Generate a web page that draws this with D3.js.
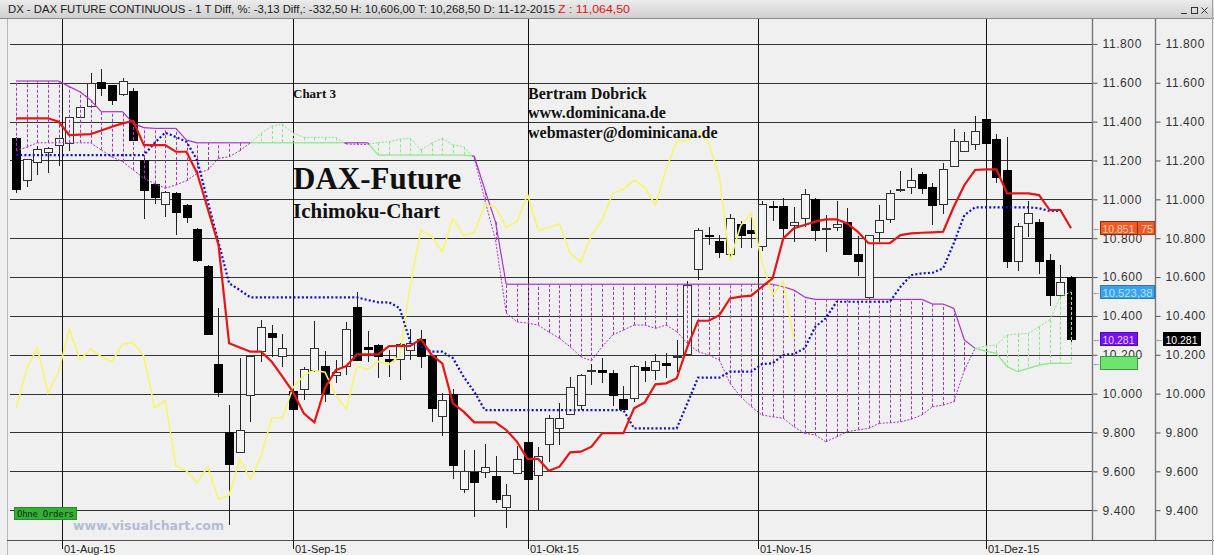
<!DOCTYPE html>
<html><head><meta charset="utf-8">
<script src="https://cdn.jsdelivr.net/npm/d3@7"></script>
<style>
html,body{margin:0;padding:0;background:#f0f0f0;overflow:hidden}
svg{display:block}
</style></head><body>
<svg id="c" width="1214" height="555"></svg>
<script>
// ---------------- DATA ----------------
const firstDay = "2015-07-27", lastDay = "2015-12-11"; // trading days (Mon-Fri)
const monthStarts = ["2015-08-01","2015-09-01","2015-10-01","2015-11-01","2015-12-01"];
const monthLabels = ["01-Aug-15","01-Sep-15","01-Okt-15","01-Nov-15","01-Dez-15"];
const priceTicks = [9400,9600,9800,10000,10200,10400,10600,10800,11000,11200,11400,11600,11800];

const open = [11314,11099,11192,11243,11279,11288,11425,11477,11605,11587,11540,11559,11202,11077,10979,11031,10971,10847,10658,10152,
 9804,9701,9993,10219,10313,10193,10015,10024,10125,10142,10099,10142,10447,10240,10249,10176,10176,10228,10281,10195,
 9883,9996,9509,9595,9598,9576,9418,9590,9749,9581,9739,9826,9893,9941,10116,10120,10104,9972,9975,10139,
 10121,10159,10187,10204,10641,10815,10785,10717,10873,10842,10760,10965,10967,10868,10902,11000,10853,10859,10885,10717,
 10496,10830,10897,11050,11062,11130,11065,10976,11173,11250,11283,11412,11310,11151,10682,10876,10882,10688,10507,10602];
const high = [11320,11210,11274,11270,11318,11425,11485,11648,11669,11590,11624,11571,11215,11085,11045,11036,10975,10850,10660,10439,
 9941,10182,10195,10379,10353,10305,10020,10135,10374,10219,10173,10370,10521,10324,10255,10224,10260,10331,10327,10200,
 10001,10022,9710,9710,9739,9680,9535,9732,9755,9727,9890,9950,10087,10100,10155,10185,10121,10039,10145,10169,
 10204,10207,10276,10579,10854,10859,10816,10923,10890,10910,10993,10993,11008,10962,11051,11008,10919,10991,10954,10811,
 10815,10969,11048,11147,11160,11142,11082,11185,11360,11348,11429,11420,11334,11319,10876,10991,10897,10718,10662,10606];
const low = [11031,11065,11125,11137,11171,11250,11420,11470,11533,11485,11530,11300,10897,10976,10910,10816,10880,10680,10300,9984,
 9323,9695,9855,10164,10187,10135,9918,9967,10113,9958,10056,10096,10170,10164,10079,10084,10070,10173,10130,9855,
 9783,9560,9487,9366,9564,9435,9307,9585,9555,9401,9649,9735,9888,9915,10044,10053,9936,9918,9958,10058,
 10070,10079,10113,10200,10585,10765,10696,10696,10748,10751,10734,10888,10808,10782,10856,10787,10730,10837,10713,10607,
 10487,10782,10876,11039,11027,11027,10868,10924,11168,11245,11254,11288,11085,10645,10633,10808,10616,10451,10499,10268];
const close = [11053,11206,11257,11266,11314,11422,11477,11597,11576,11511,11609,11305,11048,11008,11039,10931,10910,10688,10307,10010,
 9641,9813,10193,10344,10290,10236,9924,10127,10236,10005,10113,10332,10173,10230,10190,10164,10254,10262,10193,9927,
 9965,9629,9602,9541,9624,9457,9478,9662,9560,9680,9873,9876,10032,10094,10120,10110,9991,9921,10142,10125,
 10166,10151,10193,10559,10842,10810,10730,10902,10815,10828,10974,10960,10856,10885,11026,10842,10855,10873,10722,10679,
 10815,10893,11031,11053,11099,11060,10971,11154,11300,11300,11352,11291,11116,10684,10864,10928,10679,10507,10576,10281];

// Tenkan-sen (red)
const tenkan = [11417,11417,11417,11417,11399,11331,11333,11336,11354,11374,11391,11403,11279,11279,11279,11245,11245,11134,10950,10765,
 10259,10237,10216,10216,10164,10087,10008,9899,9852,10030,10121,10142,10202,10202,10202,10245,10245,10245,10281,10199,
 10156,9950,9907,9852,9852,9852,9813,9753,9664,9664,9603,9624,9698,9701,9727,9796,9796,9796,9924,9955,
 10048,10053,10079,10241,10375,10375,10404,10490,10499,10504,10550,10593,10799,10851,10868,10885,10897,10897,10876,10833,
 10774,10774,10774,10816,10825,10828,10830,10833,10962,11074,11151,11154,11154,11031,11031,11031,11022,10945,10945,10851];
// Kijun-sen (blue dotted)
const kijun = [11228,11228,11228,11228,11228,11228,11228,11228,11228,11228,11228,11228,11228,11290,11343,11321,11296,11202,10988,10780,
 10568,10533,10495,10495,10495,10495,10495,10495,10495,10495,10495,10495,10495,10482,10470,10470,10440,10265,10240,10216,
 10216,10183,10087,10010,9915,9915,9915,9915,9915,9915,9915,9915,9915,9915,9915,9915,9915,9915,9821,9821,
 9821,9821,9821,9950,10082,10082,10082,10113,10113,10113,10152,10156,10199,10204,10233,10344,10388,10473,10473,10473,
 10473,10473,10473,10550,10610,10619,10622,10645,10774,10919,10959,10959,10959,10959,10959,10959,10954,10940,10940];
// Chikou span (yellow, plotted 26 bars back)
const chikou = [9924,10127,10236,10005,10113,10332,10173,10230,10190,10164,10254,10262,10193,9927,9965,9629,9602,9541,9624,9457,
 9478,9662,9560,9680,9873,9876,10032,10094,10120,10110,9991,9921,10142,10125,10166,10151,10193,10559,10842,10810,
 10730,10902,10815,10828,10974,10960,10856,10885,11026,10842,10855,10873,10722,10679,10815,10893,11031,11053,11099,11060,
 10971,11154,11300,11300,11352,11291,11116,10684,10864,10928,10679,10507,10576,10281];
// Senkou span A (dashed border)
const spanA = [11250,11268,11291,11291,11291,11291,11291,11291,11254,11219,11194,11151,11108,11082,11057,11074,11096,11134,11151,11211,
 11219,11250,11291,11340,11377,11387,11341,11319,11319,11319,11319,11285,11283,11283,11292,11296,11309,11314,11254,11288,
 11314,11280,11271,11213,10996,10790,10415,10370,10363,10353,10317,10285,10241,10190,10169,10241,10302,10327,10353,10353,
 10336,10353,10319,10259,10216,10199,10173,10053,9984,9933,9890,9881,9873,9830,9796,9787,9752,9778,9804,9813,
 9821,9847,9850,9855,9868,9890,9933,9941,9958,10121,10233,10245,10250,10302,10307,10310,10344,10379,10499,10523.38];
// Senkou span B (solid border)
const spanB = [11609,11609,11609,11609,11609,11580,11554,11511,11451,11451,11451,11391,11369,11365,11365,11365,11305,11291,11291,11291,
 11291,11291,11291,11291,11291,11291,11291,11291,11291,11291,11291,11291,11291,11291,11228,11228,11228,11228,11228,11228,
 11228,11228,11228,11223,11048,10883,10563,10563,10563,10563,10563,10563,10563,10563,10563,10563,10563,10563,10563,10563,
 10563,10563,10563,10563,10563,10563,10563,10563,10563,10563,10563,10563,10550,10533,10497,10485,10485,10485,10485,10485,
 10485,10485,10485,10485,10485,10485,10461,10461,10439,10276,10233,10219,10207,10139,10113,10130,10147,10156,10156,10156];

// ---------------- LAYOUT ----------------
const W = 1214, H = 555;
const L = 7, R = 1092, T = 19, B = 540;
const svg = d3.select("#c");
const pf = d3.timeParse("%Y-%m-%d");
const days = d3.timeDay.range(pf(firstDay), d3.timeDay.offset(pf(lastDay), 1)).filter(d => d.getDay() % 6 !== 0);
const n = days.length;
const x = d3.scaleLinear().domain([0, n - 1]).range([16, 1071]);
const y = d3.scaleLinear().domain([9400, 11800]).range([510.2, 43.9]);
const loc = d3.formatLocale({decimal: ",", thousands: ".", grouping: [3], currency: ["", ""]});
const fmt = loc.format(",.0f");
const fmt2 = loc.format(",.2f");

// fractional index of a calendar date
function dateIdx(d) {
  const t = days.map(v => +v);
  let i = d3.bisectLeft(t, +d);
  if (i < n && t[i] === +d) return i;
  const p = days[i - 1], q = days[i];
  return (i - 1) + (d - p) / (q - p);
}

svg.append("rect").attr("width", W).attr("height", H).attr("fill", "#f0f0f0");

// header bar
const defs = svg.append("defs");
const gr = defs.append("linearGradient").attr("id", "hdr").attr("x1", 0).attr("y1", 0).attr("x2", 0).attr("y2", 1);
gr.append("stop").attr("offset", "0%").attr("stop-color", "#ececec");
gr.append("stop").attr("offset", "100%").attr("stop-color", "#cfcfcf");
svg.append("rect").attr("x", 0).attr("y", 0).attr("width", W).attr("height", 18).attr("fill", "url(#hdr)");
svg.append("line").attr("x1", 0).attr("x2", W).attr("y1", 18.5).attr("y2", 18.5).attr("stroke", "#8a8a8a");
svg.append("text").attr("x", 8).attr("y", 13).attr("font-family", "Liberation Sans Narrow, Arial Narrow, sans-serif")
  .attr("font-size", 11).attr("fill", "#1a1a1a").attr("textLength", 547).attr("lengthAdjust", "spacingAndGlyphs")
  .text("DX - DAX FUTURE CONTINUOUS -  1 T Diff, %: -3,13 Diff,: -332,50 H: 10,606,00 T: 10,268,50 D: 11-12-2015");
svg.append("text").attr("x", 558).attr("y", 13).attr("font-family", "Liberation Sans Narrow, Arial Narrow, sans-serif")
  .attr("font-size", 11).attr("fill", "#e01010").attr("textLength", 72).attr("lengthAdjust", "spacingAndGlyphs")
  .text("Z : 11,064,50");
// window buttons
const wb = svg.append("g").attr("stroke", "#333").attr("fill", "none").attr("stroke-width", 1);
wb.append("line").attr("x1", 1181).attr("x2", 1187).attr("y1", 13.5).attr("y2", 13.5);
wb.append("rect").attr("x", 1191.5).attr("y", 7.5).attr("width", 6).attr("height", 6);
wb.append("line").attr("x1", 1201.5).attr("x2", 1207.5).attr("y1", 7.5).attr("y2", 13.5);
wb.append("line").attr("x1", 1207.5).attr("x2", 1201.5).attr("y1", 7.5).attr("y2", 13.5);

// frame
svg.append("line").attr("x1", L + 0.5).attr("x2", L + 0.5).attr("y1", T).attr("y2", H).attr("stroke", "#b8b8b8");
svg.append("line").attr("x1", L).attr("x2", W).attr("y1", B + 0.5).attr("y2", B + 0.5).attr("stroke", "#505050");
svg.append("line").attr("x1", W - 1.5).attr("x2", W - 1.5).attr("y1", 0).attr("y2", H).attr("stroke", "#a0a0a0");

// horizontal grid
svg.append("g").selectAll("line").data(priceTicks).join("line")
  .attr("x1", 10).attr("x2", R).attr("y1", d => Math.round(y(d)) + 0.5).attr("y2", d => Math.round(y(d)) + 0.5)
  .attr("stroke", "#333").attr("stroke-width", 1.1);

// month lines + labels
const mIdx = monthStarts.map(s => dateIdx(pf(s)));
svg.append("g").selectAll("line").data(mIdx).join("line")
  .attr("x1", d => Math.round(x(d)) + 0.5).attr("x2", d => Math.round(x(d)) + 0.5)
  .attr("y1", T).attr("y2", 549).attr("stroke", "#111");
svg.append("g").selectAll("text").data(mIdx).join("text")
  .attr("x", d => Math.round(x(d)) + 2).attr("y", 553)
  .attr("font-family", "Liberation Sans Narrow, Arial Narrow, sans-serif").attr("font-size", 11).attr("fill", "#222")
  .text((d, i) => monthLabels[i]);

// right axes
function priceAxis(x0) {
  const g = svg.append("g").attr("transform", `translate(${x0 + 0.5},0)`);
  g.call(d3.axisRight(y).tickValues(d3.range(9250, 11951, 50)).tickSize(3).tickFormat(""));
  g.call(d3.axisRight(y).tickValues(priceTicks).tickSize(5).tickPadding(5).tickFormat(fmt));
  g.selectAll(".domain").remove();
  g.selectAll("line").attr("stroke", "#555");
  g.selectAll("text").attr("font-family", "Liberation Sans Narrow, Arial Narrow, sans-serif")
    .attr("font-size", 12).attr("letter-spacing", "0.6px").attr("fill", "#333");
  svg.append("line").attr("x1", x0 + 0.5).attr("x2", x0 + 0.5).attr("y1", T).attr("y2", B).attr("stroke", "#777").attr("stroke-width", 1.4);
}
priceAxis(R);
priceAxis(1155);

// ---------------- CANDLES ----------------
const cg = svg.append("g").attr("shape-rendering", "crispEdges");
const idx = d3.range(n);
cg.selectAll("line").data(idx).join("line")
  .attr("x1", i => Math.round(x(i)) + 0.5).attr("x2", i => Math.round(x(i)) + 0.5)
  .attr("y1", i => y(high[i])).attr("y2", i => y(low[i])).attr("stroke", "#222");
cg.selectAll("rect").data(idx).join("rect")
  .attr("x", i => Math.round(x(i)) - 3.5).attr("width", 8)
  .attr("y", i => Math.round(y(Math.max(open[i], close[i]))) + 0.5)
  .attr("height", i => Math.max(1, Math.round(Math.abs(y(open[i]) - y(close[i])))))
  .attr("fill", i => close[i] < open[i] ? "#000" : "#f4f4f4")
  .attr("stroke", i => close[i] < open[i] ? "#000" : "#333");

// ---------------- CLOUD ----------------
const GREEN = "#86e886", PURPLE = "#a636c8";
const cloud = svg.append("g");
cloud.selectAll("line.h").data(d3.range(n)).join("line").attr("class", "h")
  .attr("x1", i => Math.round(x(i)) + 0.5).attr("x2", i => Math.round(x(i)) + 0.5)
  .attr("y1", i => y(spanA[i])).attr("y2", i => y(spanB[i]))
  .attr("stroke", i => spanA[i] >= spanB[i] ? GREEN : PURPLE).attr("stroke-width", 1)
  .attr("stroke-dasharray", "3,2");
const segs = [];
for (let i = 0; i < n - 1; i++) {
  const d0 = spanA[i] - spanB[i], d1 = spanA[i + 1] - spanB[i + 1];
  if (d0 * d1 < 0) {
    const t = d0 / (d0 - d1);
    const ia = i + t, va = spanA[i] + t * (spanA[i + 1] - spanA[i]);
    segs.push({i0: i, i1: ia, a0: spanA[i], a1: va, b0: spanB[i], b1: va, up: d0 > 0});
    segs.push({i0: ia, i1: i + 1, a0: va, a1: spanA[i + 1], b0: va, b1: spanB[i + 1], up: d1 > 0});
  } else {
    segs.push({i0: i, i1: i + 1, a0: spanA[i], a1: spanA[i + 1], b0: spanB[i], b1: spanB[i + 1], up: (d0 + d1) >= 0});
  }
}
cloud.selectAll("line.b").data(segs).join("line").attr("class", "b")
  .attr("x1", s => x(s.i0)).attr("x2", s => x(s.i1)).attr("y1", s => y(s.b0)).attr("y2", s => y(s.b1))
  .attr("stroke", s => s.up ? GREEN : PURPLE).attr("stroke-width", 1.2);
cloud.selectAll("line.a").data(segs).join("line").attr("class", "a")
  .attr("x1", s => x(s.i0)).attr("x2", s => x(s.i1)).attr("y1", s => y(s.a0)).attr("y2", s => y(s.a1))
  .attr("stroke", s => s.up ? GREEN : PURPLE).attr("stroke-width", 1).attr("stroke-dasharray", "2,1.5");

// ---------------- LINES ----------------
svg.append("path").datum(chikou).attr("fill", "none").attr("stroke", "#f6f66a").attr("stroke-width", 1.6)
  .attr("d", d3.line().x((d, i) => x(i)).y(d => y(d)));
svg.append("path").datum(kijun).attr("fill", "none").attr("stroke", "#1010c8").attr("stroke-width", 2.2)
  .attr("stroke-dasharray", "2,2.2").attr("d", d3.line().x((d, i) => x(i)).y(d => y(d)));
svg.append("path").datum(tenkan).attr("fill", "none").attr("stroke", "#e81414").attr("stroke-width", 2.2)
  .attr("d", d3.line().x((d, i) => x(i)).y(d => y(d)));

// ---------------- TEXTS ----------------
const serif = "Liberation Serif, Times New Roman, serif";
const tx = (xx, yy, s, size) => svg.append("text").attr("x", xx).attr("y", yy).attr("font-family", serif)
  .attr("font-weight", "bold").attr("font-size", size).attr("fill", "#111").text(s);
tx(293, 97.5, "Chart 3", 13);
tx(528, 99, "Bertram Dobrick", 16);
tx(528, 118, "www.dominicana.de", 16);
tx(528, 137.5, "webmaster@dominicana.de", 16);
tx(293, 188.5, "DAX-Future", 31);
tx(293, 217.5, "Ichimoku-Chart", 21);

// Ohne Orders / watermark
svg.append("rect").attr("x", 14.5).attr("y", 507.5).attr("width", 62).attr("height", 12).attr("fill", "#34b034").attr("stroke", "#2a8a2a");
svg.append("text").attr("x", 17).attr("y", 517).attr("font-family", "DejaVu Sans Mono, monospace").attr("font-size", 9)
  .attr("fill", "#102a10").attr("textLength", 57).text("Ohne Orders");
svg.append("text").attr("x", 73).attr("y", 530).attr("font-family", "DejaVu Sans, Verdana, sans-serif").attr("font-weight", "bold")
  .attr("font-size", 13).attr("fill", "#b4bcd4").attr("textLength", 151).attr("lengthAdjust", "spacingAndGlyphs").text("www.visualchart.com");

// axis value boxes
const lab = svg.append("g").attr("font-family", "Liberation Sans Narrow, Arial Narrow, sans-serif").attr("font-size", 11);
function box(x0, v, w, fill, stroke, txt, tcol, tlen) {
  const yy = Math.round(y(v));
  lab.append("text").attr("x", x0 - 8).attr("y", yy + 3).attr("font-size", 9).attr("fill", "#777").text("←");
  lab.append("rect").attr("x", x0 + 0.5).attr("y", yy - 6.5).attr("width", w).attr("height", 13).attr("fill", fill).attr("stroke", stroke);
  if (txt) lab.append("text").attr("x", x0 + 2.5).attr("y", yy + 4.5).attr("fill", tcol)
    .attr("textLength", tlen).attr("lengthAdjust", "spacingAndGlyphs").text(txt);
}
const lastT = tenkan[tenkan.length - 1], lastA = spanA[n - 1], lastB = spanB[n - 1], lastC = close[n - 1];
// orange Tenkan label (with partly hidden second label)
box(1100, lastT, 54, "#f25a24", "#b83a10", "", "#fff", 0);
lab.append("text").attr("x", 1141).attr("y", Math.round(y(lastT)) + 4.5).attr("fill", "#ffd2c0").text("75");
lab.append("rect").attr("x", 1100.5).attr("y", Math.round(y(lastT)) - 6.5).attr("width", 37).attr("height", 13).attr("fill", "#f25a24").attr("stroke", "#8a2a08");
lab.append("text").attr("x", 1102.5).attr("y", Math.round(y(lastT)) + 4.5).attr("fill", "#ffd2c0")
  .attr("textLength", 32).attr("lengthAdjust", "spacingAndGlyphs").text(fmt(lastT));
box(1100, lastA, 54, "#3aa2ea", "#2a78b0", fmt2(lastA), "#b8e0ff", 50);
box(1100, lastC, 37, "#7412f2", "#5008b0", fmt(lastC), "#e8d0ff", 32);
box(1100, lastB, 37, "#6ee46e", "#3c9a3c", "", "#fff", 0);
box(1163, lastC, 37, "#000", "#000", fmt(lastC), "#fff", 32);
</script>
</body></html>
